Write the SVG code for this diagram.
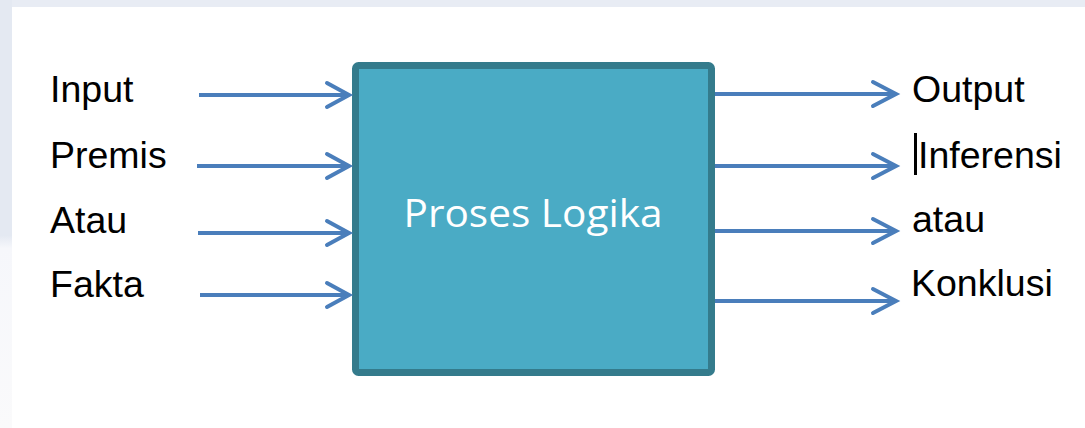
<svg xmlns="http://www.w3.org/2000/svg" width="1085" height="428" viewBox="0 0 1085 428">
<defs>
<style>
.lbl{font-family:"Liberation Sans",Arial,sans-serif;font-size:37.5px;fill:#000}
.conn line{stroke:#4a7ebb;stroke-width:4;fill:none}
.conn polyline{stroke:#4a7ebb;stroke-width:4;fill:none;stroke-linecap:round;stroke-linejoin:miter}
</style>
<linearGradient id="lg" x1="0" y1="0" x2="0" y2="1">
<stop offset="0" stop-color="#e4e9f2"/>
<stop offset="0.55" stop-color="#e4e9f2"/>
<stop offset="0.58" stop-color="#f6f7fb"/>
<stop offset="1" stop-color="#fafafb"/>
</linearGradient>
</defs>
<rect width="1085" height="428" fill="#ffffff"/>
<rect x="0" y="0" width="1085" height="7" fill="#e8ecf4"/>
<rect x="0" y="0" width="12" height="428" fill="url(#lg)"/>
<g id="process">
<rect x="355.5" y="65.5" width="356" height="307" rx="3" fill="#4aabc5" stroke="#347b8c" stroke-width="7"/>
<text x="533" y="227" text-anchor="middle" font-family="'Open Sans','Noto Sans',sans-serif" font-size="39" fill="#ffffff" textLength="259" lengthAdjust="spacingAndGlyphs">Proses Logika</text>
</g>
<g id="inputs">
<text class="lbl" x="50" y="102">Input</text>
<text class="lbl" x="50" y="168">Premis</text>
<text class="lbl" x="50" y="233">Atau</text>
<text class="lbl" x="50" y="297">Fakta</text>
</g>
<g id="outputs">
<text class="lbl" x="912" y="102">Output</text>
<rect x="914" y="133" width="3" height="42" fill="#000"/>
<text class="lbl" x="918" y="168">Inferensi</text>
<text class="lbl" x="912" y="232">atau</text>
<text class="lbl" x="911" y="296">Konklusi</text>
</g>
<g id="connectors" class="conn">
<line x1="199" y1="95" x2="348" y2="95"/><polyline points="327,83 349,95 327,107"/>
<line x1="197" y1="166" x2="348" y2="166"/><polyline points="327,154 349,166 327,178"/>
<line x1="198" y1="233" x2="348" y2="233"/><polyline points="327,221 349,233 327,245"/>
<line x1="200" y1="295" x2="348" y2="295"/><polyline points="327,283 349,295 327,307"/>
<line x1="715" y1="94" x2="895" y2="94"/><polyline points="873,82 896,94 873,106"/>
<line x1="715" y1="166" x2="895" y2="166"/><polyline points="873,154 896,166 873,178"/>
<line x1="715" y1="231" x2="895" y2="231"/><polyline points="873,219 896,231 873,243"/>
<line x1="715" y1="301" x2="895" y2="301"/><polyline points="873,289 896,301 873,313"/>
</g>
</svg>
